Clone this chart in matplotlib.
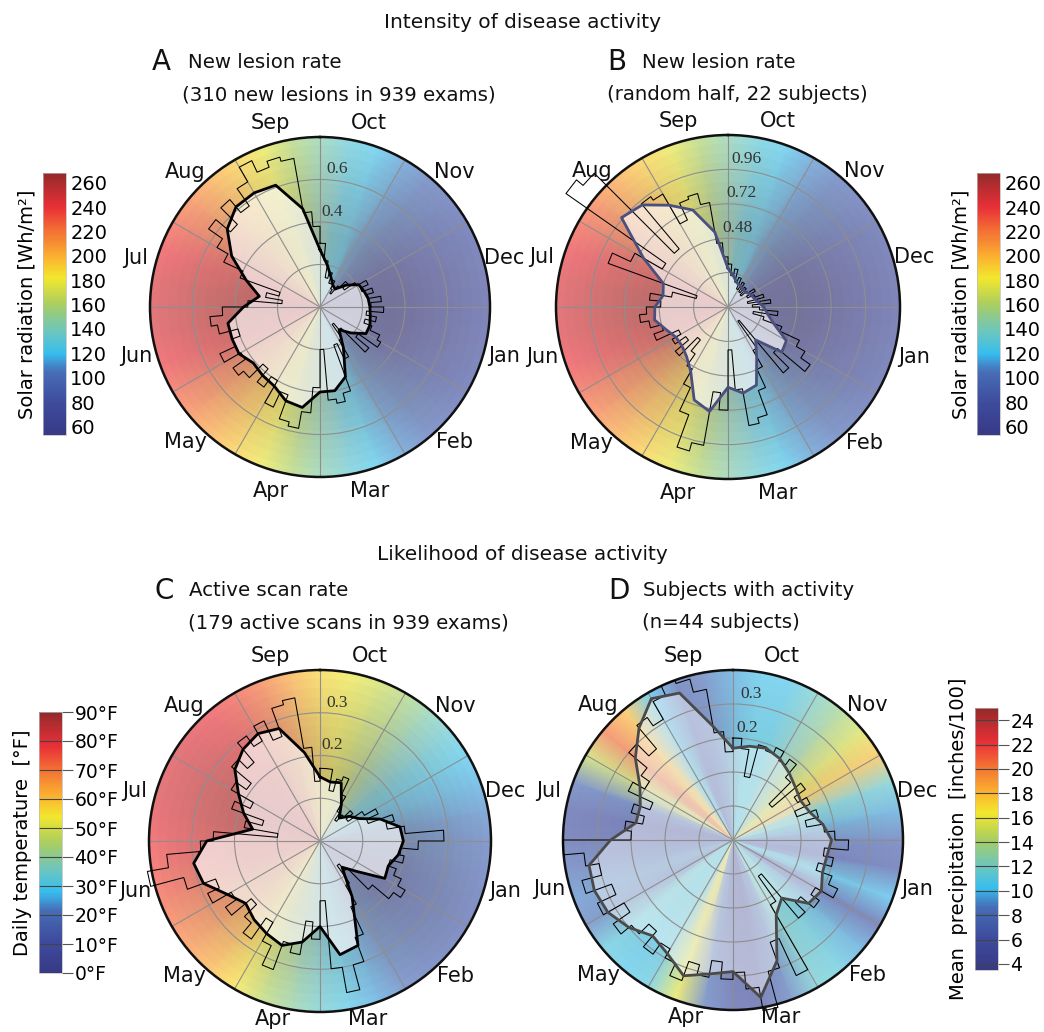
import numpy as np
import matplotlib
matplotlib.use('Agg')
import matplotlib.pyplot as plt
from matplotlib.colors import LinearSegmentedColormap, Normalize, to_rgb
from matplotlib.cm import ScalarMappable

plt.rcParams['font.family'] = ['DejaVu Sans']

months = ['Oct', 'Nov', 'Dec', 'Jan', 'Feb', 'Mar', 'Apr', 'May', 'Jun', 'Jul', 'Aug', 'Sep']

# angles in degrees, clockwise from the top, Oct 1 at the top
rough_deg = np.arange(0, 360, 5)
smooth_deg = np.arange(0, 360, 10)
bg_deg = np.arange(0, 360, 10)

# A: new lesion rate
a_rough = [0.30, 0.22, 0.14, 0.17, 0.12, 0.14, 0.10, 0.08, 0.13, 0.17,
           0.14, 0.20, 0.25, 0.21, 0.26, 0.23, 0.29, 0.24, 0.30, 0.22,
           0.27, 0.22, 0.26, 0.31, 0.33, 0.22, 0.30, 0.14, 0.10, 0.18,
           0.27, 0.19, 0.42, 0.46, 0.44, 0.20, 0.38, 0.50, 0.58, 0.56,
           0.44, 0.52, 0.40, 0.46, 0.38, 0.47, 0.50, 0.43, 0.52, 0.44,
           0.40, 0.49, 0.52, 0.46, 0.34, 0.18, 0.26, 0.20, 0.40, 0.50,
           0.56, 0.64, 0.55, 0.66, 0.58, 0.68, 0.76, 0.70, 0.73, 0.71,
           0.45, 0.38]
a_smooth = [0.27, 0.20, 0.15, 0.12, 0.11, 0.16, 0.21, 0.22, 0.23, 0.235,
            0.24, 0.25, 0.25, 0.19, 0.14, 0.22, 0.35, 0.40, 0.40, 0.48,
            0.47, 0.43, 0.42, 0.41, 0.44, 0.44, 0.44, 0.36, 0.29, 0.37,
            0.48, 0.57, 0.615, 0.62, 0.61, 0.47]

# B: new lesion rate, random half
b_rough = [0.30, 0.22, 0.27, 0.18, 0.22, 0.14, 0.20, 0.13, 0.18, 0.12,
           0.17, 0.22, 0.15, 0.20, 0.26, 0.14, 0.30, 0.17, 0.22, 0.35,
           0.18, 0.26, 0.40, 0.55, 0.62, 0.70, 0.45, 0.60, 0.12, 0.35,
           0.48, 0.62, 0.80, 0.84, 0.58, 0.30, 0.72, 0.60, 0.98, 1.04,
           0.80, 0.62, 0.50, 0.40, 0.30, 0.48, 0.36, 0.45, 0.38, 0.55,
           0.48, 0.56, 0.62, 0.57, 0.47, 0.55, 0.40, 0.23, 0.89, 0.75,
           0.53, 1.38, 1.32, 0.53, 0.94, 0.91, 0.67, 0.80, 0.82, 0.74,
           0.45, 0.35]
b_smooth = [0.27, 0.22, 0.18, 0.17, 0.16, 0.16, 0.18, 0.19, 0.21, 0.25,
            0.28, 0.34, 0.47, 0.49, 0.30, 0.40, 0.58, 0.61, 0.56, 0.74,
            0.69, 0.52, 0.45, 0.42, 0.42, 0.46, 0.52, 0.51, 0.46, 0.48,
            0.68, 0.97, 0.93, 0.82, 0.72, 0.53]

# C: active scan rate
c_rough = [0.17, 0.17, 0.12, 0.15, 0.16, 0.12, 0.08, 0.06, 0.08, 0.10,
           0.08, 0.12, 0.15, 0.12, 0.18, 0.16, 0.20, 0.29, 0.23, 0.19,
           0.20, 0.17, 0.19, 0.21, 0.23, 0.21, 0.16, 0.09, 0.07, 0.12,
           0.17, 0.24, 0.30, 0.36, 0.30, 0.14, 0.23, 0.19, 0.27, 0.25,
           0.32, 0.27, 0.22, 0.28, 0.25, 0.21, 0.27, 0.24, 0.29, 0.26,
           0.33, 0.41, 0.36, 0.28, 0.25, 0.10, 0.18, 0.14, 0.22, 0.18,
           0.24, 0.21, 0.27, 0.24, 0.30, 0.27, 0.31, 0.26, 0.33, 0.34,
           0.22, 0.14]
c_smooth = [0.15, 0.14, 0.145, 0.10, 0.07, 0.09, 0.105, 0.15, 0.19, 0.195,
            0.186, 0.17, 0.175, 0.11, 0.08, 0.15, 0.26, 0.27, 0.20, 0.24,
            0.26, 0.25, 0.24, 0.227, 0.25, 0.29, 0.30, 0.265, 0.16, 0.19,
            0.22, 0.26, 0.28, 0.29, 0.28, 0.21]

# D: subjects with activity
d_rough = [0.20, 0.17, 0.09, 0.19, 0.18, 0.20, 0.17, 0.19, 0.14, 0.05,
           0.16, 0.12, 0.15, 0.10, 0.16, 0.12, 0.17, 0.20, 0.24, 0.17,
           0.20, 0.16, 0.21, 0.24, 0.18, 0.21, 0.16, 0.20, 0.03, 0.12,
           0.34, 0.22, 0.30, 0.41, 0.34, 0.29, 0.31, 0.26, 0.31, 0.28,
           0.34, 0.30, 0.27, 0.31, 0.25, 0.29, 0.33, 0.27, 0.34, 0.28,
           0.36, 0.30, 0.34, 0.40, 0.20, 0.22, 0.17, 0.21, 0.16, 0.24,
           0.20, 0.23, 0.30, 0.25, 0.34, 0.31, 0.37, 0.40, 0.39, 0.35,
           0.22, 0.16]
d_smooth = [0.17, 0.18, 0.187, 0.176, 0.157, 0.14, 0.13, 0.14, 0.168, 0.19,
            0.18, 0.18, 0.20, 0.19, 0.123, 0.154, 0.278, 0.37, 0.287, 0.30,
            0.325, 0.286, 0.268, 0.30, 0.325, 0.334, 0.33, 0.26, 0.19, 0.19,
            0.216, 0.275, 0.33, 0.38, 0.36, 0.24]

# background climate values, every 10 degrees
solar_bg = [145, 130, 122, 110, 98, 88, 80, 74, 70, 68, 70, 74, 80, 88, 98, 110, 122, 132,
            145, 160, 178, 192, 205, 218, 230, 240, 246, 248, 246, 240, 230, 218, 205, 192, 178, 160]
temp_bg = [57, 53, 49, 44, 38, 33, 29, 26, 23, 20, 17, 15, 14, 15, 17, 21, 25, 30,
           34, 40, 46, 55, 62, 67, 71, 74, 76, 78, 80, 81, 81, 80, 78, 75, 70, 63]
precip_bg = [9.5, 10.5, 10.5, 12, 13.5, 15.5, 18, 11.5, 9.5, 7.5, 6.5, 10, 6, 9.5, 11, 11.5, 8.5, 5.5,
             6, 8.5, 16, 11, 10.5, 11, 8.5, 9, 8, 6.5, 6, 8, 15, 20.5, 18, 10, 7, 8.5]

solar_ticks = list(range(60, 261, 20))
temp_ticks = list(range(0, 91, 10))
precip_ticks = list(range(4, 25, 2))

stops = [(0.0, '#26287a'), (0.12, '#2d3c95'), (0.24, '#3761b0'), (0.31, '#26b8ee'),
         (0.40, '#62c2b6'), (0.50, '#a3ca52'), (0.60, '#f2e51b'), (0.68, '#fbab1e'),
         (0.78, '#f26322'), (0.87, '#e81e27'), (1.0, '#8a1818')]
cmap = LinearSegmentedColormap.from_list('clim', stops)
# washed-out version for the dial backgrounds
pale = LinearSegmentedColormap.from_list(
    'pale', [(p, tuple(0.6 * np.array(to_rgb(c)) + 0.4)) for p, c in stops])

W, H = 1044, 1032
fig = plt.figure(figsize=(W / 100, H / 100), dpi=100)


def px(x, y, w, h):
    return [x / W, 1 - (y + h) / H, w / W, h / H]


def closed(deg, vals):
    return np.deg2rad(np.append(deg, 360)), np.append(vals, vals[0])


def panel(rect, rough, smooth, bg, norm, rmin, rmax, rings, labels, scol, shade_k,
          fill_a=0.66, low_lab=1.12):
    ax = fig.add_axes(rect, projection='polar')
    ax.set_theta_zero_location('N')
    ax.set_theta_direction(-1)
    span = rmax - rmin

    th, c = closed(bg_deg, bg)
    T, R = np.meshgrid(th, [rmin, rmax])
    ax.pcolormesh(T, R, np.tile(c, (2, 1)), cmap=pale, norm=norm, shading='gouraud', zorder=0)
    # soft darkening towards the middle
    circ = np.linspace(0, 2 * np.pi, 241)
    for f in np.linspace(0.95, 0.45, 10):
        ax.fill(circ, np.full_like(circ, rmin + f * span), color='#5a524c',
                alpha=0.032 * shade_k, lw=0, zorder=0.5)

    ts, rsm = closed(smooth_deg, smooth)
    ax.fill(ts, rsm, color='white', alpha=fill_a, lw=0, zorder=1)
    tr, rr = closed(rough_deg, rough)
    ax.plot(tr, rr, drawstyle='steps-post', color='black', lw=0.75, zorder=3, clip_on=False)
    ax.plot(ts, rsm, color=scol, lw=2.0, zorder=4)

    ax.set_ylim(rmin, rmax)
    ax.set_thetagrids(np.arange(0, 360, 30), labels=[''] * 12)
    ax.set_rgrids(rings, labels=[''] * len(rings))
    ax.grid(color='#8e8e8e', lw=0.8)
    ax.spines['polar'].set_linewidth(1.8)
    ax.spines['polar'].set_color('#111111')

    for i, m in enumerate(months):
        d = low_lab if m in ('Mar', 'Apr') else 1.12
        ax.text(np.deg2rad(15 + 30 * i), rmin + d * span, m, ha='center', va='center',
                fontsize=15, color='#111111')
    for val, lab in labels:
        ax.text(np.deg2rad(7), val + 0.065 * span, lab, ha='center', va='center',
                fontsize=12.5, family='Liberation Serif', color='#333333', zorder=5)
    return ax


def colorbar(rect, norm, ticks, ticklabels, label, lines):
    cax = fig.add_axes(rect)
    cb = fig.colorbar(ScalarMappable(norm=norm, cmap=cmap), cax=cax, ticks=ticks, alpha=0.92)
    cb.set_ticklabels(ticklabels)
    cb.outline.set_edgecolor('#bbbbbb')
    cb.outline.set_linewidth(0.5)
    if lines:
        for t in ticks:
            cax.axhline(t, color='#444444', lw=0.8)
        cax.tick_params(length=8, width=0.8, color='#555555', labelsize=13.5, pad=1)
    else:
        cax.tick_params(length=0, labelsize=14, pad=3)
    cax.yaxis.set_label_position('left')
    cax.set_ylabel(label, fontsize=14, labelpad=5)
    return cb


solar_norm = Normalize(53, 268)
temp_norm = Normalize(0, 90)
precip_norm = Normalize(3.5, 25)

panel(px(150, 137, 340, 340), a_rough, a_smooth, solar_bg, solar_norm, 0, 0.8,
      [0.2, 0.4, 0.6], [(0.4, '0.4'), (0.6, '0.6')], 'black', 0.8)
panel(px(556, 135, 344, 344), b_rough, b_smooth, solar_bg, solar_norm, 0, 1.2,
      [0.24, 0.48, 0.72, 0.96], [(0.48, '0.48'), (0.72, '0.72'), (0.96, '0.96')], '#4b4f7d', 0.8)
panel(px(149, 670, 342, 342), c_rough, c_smooth, temp_bg, temp_norm, 0, 0.4,
      [0.1, 0.2, 0.3], [(0.2, '0.2'), (0.3, '0.3')], 'black', 0.8, low_lab=1.075)
panel(px(563, 670, 340, 340), d_rough, d_smooth, precip_bg, precip_norm, -0.1, 0.4,
      [0.0, 0.1, 0.2, 0.3], [(0.2, '0.2'), (0.3, '0.3')], '#4a4a4a', 0.3,
      fill_a=0.45, low_lab=1.075)

colorbar(px(43, 173, 23, 262), solar_norm, solar_ticks, [str(t) for t in solar_ticks],
         'Solar radiation [Wh/m²]', False)
colorbar(px(977, 173, 23, 262), solar_norm, solar_ticks, [str(t) for t in solar_ticks],
         'Solar radiation [Wh/m²]', False)
colorbar(px(39, 712, 23, 261), temp_norm, temp_ticks, [f'{t}°F' for t in temp_ticks],
         'Daily temperature  [°F]', True)
colorbar(px(975, 708, 23, 262), precip_norm, precip_ticks, [str(t) for t in precip_ticks],
         'Mean  precipitation  [inches/100]', True)


def ftext(x, y, s, size, ha='left'):
    fig.text(x / W, 1 - y / H, s, fontsize=size, ha=ha, va='center', color='#111111')


ftext(522, 22, 'Intensity of disease activity', 14.5, 'center')
ftext(152, 62, 'A', 20)
ftext(188, 62, 'New lesion rate', 14.2)
ftext(182, 95, '(310 new lesions in 939 exams)', 14.2)
ftext(607, 62, 'B', 20)
ftext(642, 62, 'New lesion rate', 14.2)
ftext(607, 95, '(random half, 22 subjects)', 14.2)
ftext(522, 555, 'Likelihood of disease activity', 14.5, 'center')
ftext(155, 591, 'C', 20)
ftext(189, 591, 'Active scan rate', 14.2)
ftext(188, 623, '(179 active scans in 939 exams)', 14.2)
ftext(608, 591, 'D', 20)
ftext(643, 591, 'Subjects with activity', 14.2)
ftext(642, 623, '(n=44 subjects)', 14.2)

fig.savefig('out.png', dpi=100, facecolor='white')
